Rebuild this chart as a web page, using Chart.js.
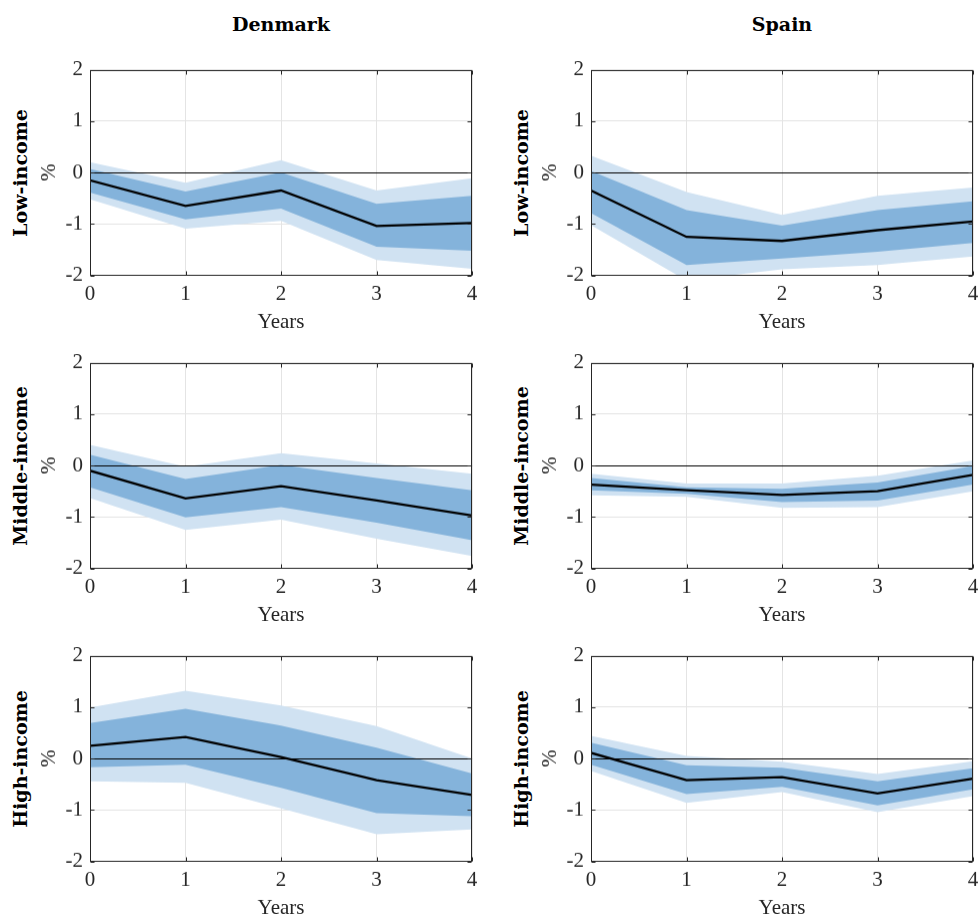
<!DOCTYPE html>
<html>
<head>
<meta charset="utf-8">
<script src="https://cdn.jsdelivr.net/npm/chart.js@4.4.1/dist/chart.umd.min.js"></script>
<style>
    html, body { margin: 0; padding: 0; background: #fff; overflow: hidden; }
    #page { position: relative; width: 979px; height: 915px; }
    canvas { position: absolute; }
    .col-title, .row-title {
        position: absolute;
        font-family: 'DejaVu Serif', serif;
        font-weight: bold;
        font-size: 19px;
        color: #000;
        white-space: nowrap;
    }
    .col-title { transform: translate(-50%, -50%); }
    .row-title { transform: translate(-50%, -50%) rotate(-90deg); }
</style>
</head>
<body>
<div id="page"></div>
<script>
const years = [0, 1, 2, 3, 4];
const countries = ['Denmark', 'Spain'];
const groups = ['Low-income', 'Middle-income', 'High-income'];

// Denmark, low-income
const dkLowMedian  = [-0.15, -0.65, -0.35, -1.04, -0.98];
const dkLowInnerHi = [ 0.07, -0.37,  0.00, -0.61, -0.45];
const dkLowInnerLo = [-0.39, -0.91, -0.70, -1.44, -1.52];
const dkLowOuterHi = [ 0.20, -0.20,  0.24, -0.35, -0.11];
const dkLowOuterLo = [-0.52, -1.09, -0.94, -1.70, -1.87];

// Spain, low-income
const esLowMedian  = [-0.35, -1.25, -1.33, -1.12, -0.95];
const esLowInnerHi = [ 0.03, -0.73, -1.03, -0.73, -0.56];
const esLowInnerLo = [-0.79, -1.80, -1.67, -1.54, -1.37];
const esLowOuterHi = [ 0.33, -0.38, -0.82, -0.45, -0.29];
const esLowOuterLo = [-1.02, -2.10, -1.88, -1.80, -1.63];

// Denmark, middle-income
const dkMidMedian  = [-0.10, -0.64, -0.40, -0.68, -0.97];
const dkMidInnerHi = [ 0.21, -0.26,  0.01, -0.24, -0.48];
const dkMidInnerLo = [-0.42, -1.01, -0.81, -1.11, -1.45];
const dkMidOuterHi = [ 0.40, -0.02,  0.24,  0.04, -0.16];
const dkMidOuterLo = [-0.63, -1.25, -1.05, -1.42, -1.76];

// Spain, middle-income
const esMidMedian  = [-0.37, -0.48, -0.57, -0.50, -0.18];
const esMidInnerHi = [-0.24, -0.42, -0.45, -0.33, -0.01];
const esMidInnerLo = [-0.48, -0.55, -0.71, -0.68, -0.37];
const esMidOuterHi = [-0.16, -0.35, -0.35, -0.20,  0.10];
const esMidOuterLo = [-0.58, -0.61, -0.82, -0.81, -0.50];

// Denmark, high-income
const dkHighMedian  = [ 0.25,  0.42,  0.03, -0.42, -0.71];
const dkHighInnerHi = [ 0.69,  0.97,  0.64,  0.21, -0.29];
const dkHighInnerLo = [-0.17, -0.12, -0.57, -1.06, -1.12];
const dkHighOuterHi = [ 0.99,  1.32,  1.03,  0.63,  0.00];
const dkHighOuterLo = [-0.44, -0.47, -0.97, -1.47, -1.38];

// Spain, high-income
const esHighMedian  = [ 0.11, -0.42, -0.36, -0.68, -0.39];
const esHighInnerHi = [ 0.31, -0.13, -0.18, -0.44, -0.19];
const esHighInnerLo = [-0.12, -0.69, -0.55, -0.91, -0.60];
const esHighOuterHi = [ 0.44,  0.05, -0.06, -0.30, -0.05];
const esHighOuterLo = [-0.24, -0.86, -0.65, -1.04, -0.73];

const panels = [
    [ {median: dkLowMedian, innerHi: dkLowInnerHi, innerLo: dkLowInnerLo, outerHi: dkLowOuterHi, outerLo: dkLowOuterLo},
      {median: esLowMedian, innerHi: esLowInnerHi, innerLo: esLowInnerLo, outerHi: esLowOuterHi, outerLo: esLowOuterLo} ],
    [ {median: dkMidMedian, innerHi: dkMidInnerHi, innerLo: dkMidInnerLo, outerHi: dkMidOuterHi, outerLo: dkMidOuterLo},
      {median: esMidMedian, innerHi: esMidInnerHi, innerLo: esMidInnerLo, outerHi: esMidOuterHi, outerLo: esMidOuterLo} ],
    [ {median: dkHighMedian, innerHi: dkHighInnerHi, innerLo: dkHighInnerLo, outerHi: dkHighOuterHi, outerLo: dkHighOuterLo},
      {median: esHighMedian, innerHi: esHighInnerHi, innerLo: esHighInnerLo, outerHi: esHighOuterHi, outerLo: esHighOuterLo} ]
];

const lightBlue = '#d0e2f2';
const darkBlue = '#84b3db';
const axisGray = '#262626';
const tickFont = { family: "'Liberation Serif', serif", size: 21 };

// plot area positions on the page
const plotLeft = [90, 591];
const plotTop = [70, 363, 656];
const yAxisW = 55, xAxisH = 60, padTop = 12, padRight = 8;
const plotW = 382, plotH = 205;

const page = document.getElementById('page');

// zero line, frame and inward ticks like a matlab box
const boxPlugin = {
    id: 'box',
    afterDatasetsDraw(chart) {
        const { ctx, chartArea: a, scales } = chart;
        ctx.save();
        ctx.lineWidth = 1;
        ctx.strokeStyle = '#000';
        const y0 = Math.round(scales.y.getPixelForValue(0)) + 0.5;
        ctx.beginPath();
        ctx.moveTo(a.left, y0);
        ctx.lineTo(a.right, y0);
        ctx.stroke();

        ctx.strokeStyle = axisGray;
        const l = Math.round(a.left) + 0.5, t = Math.round(a.top) + 0.5;
        const r = Math.round(a.right) - 0.5, b = Math.round(a.bottom) - 0.5;
        ctx.strokeRect(l, t, r - l, b - t);
        ctx.beginPath();
        scales.x.ticks.forEach(tk => {
            const x = Math.round(scales.x.getPixelForValue(tk.value)) + 0.5;
            ctx.moveTo(x, t); ctx.lineTo(x, t + 4);
            ctx.moveTo(x, b); ctx.lineTo(x, b - 4);
        });
        scales.y.ticks.forEach(tk => {
            const y = Math.round(scales.y.getPixelForValue(tk.value)) + 0.5;
            ctx.moveTo(l, y); ctx.lineTo(l + 4, y);
            ctx.moveTo(r, y); ctx.lineTo(r - 4, y);
        });
        ctx.stroke();
        ctx.restore();
    }
};

function addText(cls, text, x, y) {
    const d = document.createElement('div');
    d.className = cls;
    d.textContent = text;
    d.style.left = x + 'px';
    d.style.top = y + 'px';
    page.appendChild(d);
}

function makePanel(p, col, row) {
    const canvas = document.createElement('canvas');
    let w = yAxisW + plotW + padRight;
    let h = padTop + plotH + xAxisH;
    canvas.width = w;
    canvas.height = h;
    page.appendChild(canvas);

    const pts = arr => years.map((x, i) => ({ x: x, y: arr[i] }));
    const band = (arr, fill, color) => ({
        data: pts(arr), borderWidth: 0, borderColor: 'rgba(0,0,0,0)',
        pointRadius: 0, fill: fill, backgroundColor: color
    });

    const chart = new Chart(canvas, {
        type: 'line',
        data: {
            datasets: [
                { data: pts(p.median), borderColor: '#000', borderWidth: 2.3, pointRadius: 0, fill: false },
                band(p.innerHi, '+1', darkBlue),
                band(p.innerLo, false, darkBlue),
                band(p.outerHi, '+1', lightBlue),
                band(p.outerLo, false, lightBlue)
            ]
        },
        options: {
            responsive: false,
            maintainAspectRatio: false,
            animation: false,
            devicePixelRatio: 1,
            layout: { padding: { top: padTop, right: padRight, left: 0, bottom: 0 } },
            plugins: { legend: { display: false }, tooltip: { enabled: false } },
            elements: { line: { tension: 0 } },
            scales: {
                x: {
                    type: 'linear', min: 0, max: 4,
                    afterFit: s => { s.height = xAxisH; },
                    ticks: { stepSize: 1, padding: 6, color: axisGray, font: tickFont },
                    grid: { color: '#e4e4e4', drawTicks: false },
                    border: { display: false },
                    title: { display: true, text: 'Years', color: axisGray, font: tickFont, padding: { top: 0, bottom: 1 } }
                },
                y: {
                    min: -2, max: 2,
                    afterFit: s => { s.width = yAxisW; },
                    ticks: { stepSize: 1, padding: 7, color: axisGray, font: tickFont },
                    grid: { color: '#e4e4e4', drawTicks: false },
                    border: { display: false },
                    title: { display: true, text: '%', color: axisGray, font: tickFont, padding: { top: 2, bottom: 0 } }
                }
            }
        },
        plugins: [boxPlugin]
    });

    // make the plot area land at exactly the wanted size and place
    for (let k = 0; k < 3; k++) {
        const a = chart.chartArea;
        const dw = plotW - (a.right - a.left);
        const dh = plotH - (a.bottom - a.top);
        if (Math.abs(dw) < 0.5 && Math.abs(dh) < 0.5) break;
        w += dw; h += dh;
        chart.resize(w, h);
    }
    canvas.style.left = (plotLeft[col] - chart.chartArea.left) + 'px';
    canvas.style.top = (plotTop[row] - chart.chartArea.top) + 'px';
}

countries.forEach((c, col) => {
    addText('col-title', c, plotLeft[col] + plotW / 2, 24);
});

groups.forEach((g, row) => {
    countries.forEach((c, col) => {
        addText('row-title', g, plotLeft[col] - 70, plotTop[row] + plotH / 2);
        makePanel(panels[row][col], col, row);
    });
});
</script>
</body>
</html>
